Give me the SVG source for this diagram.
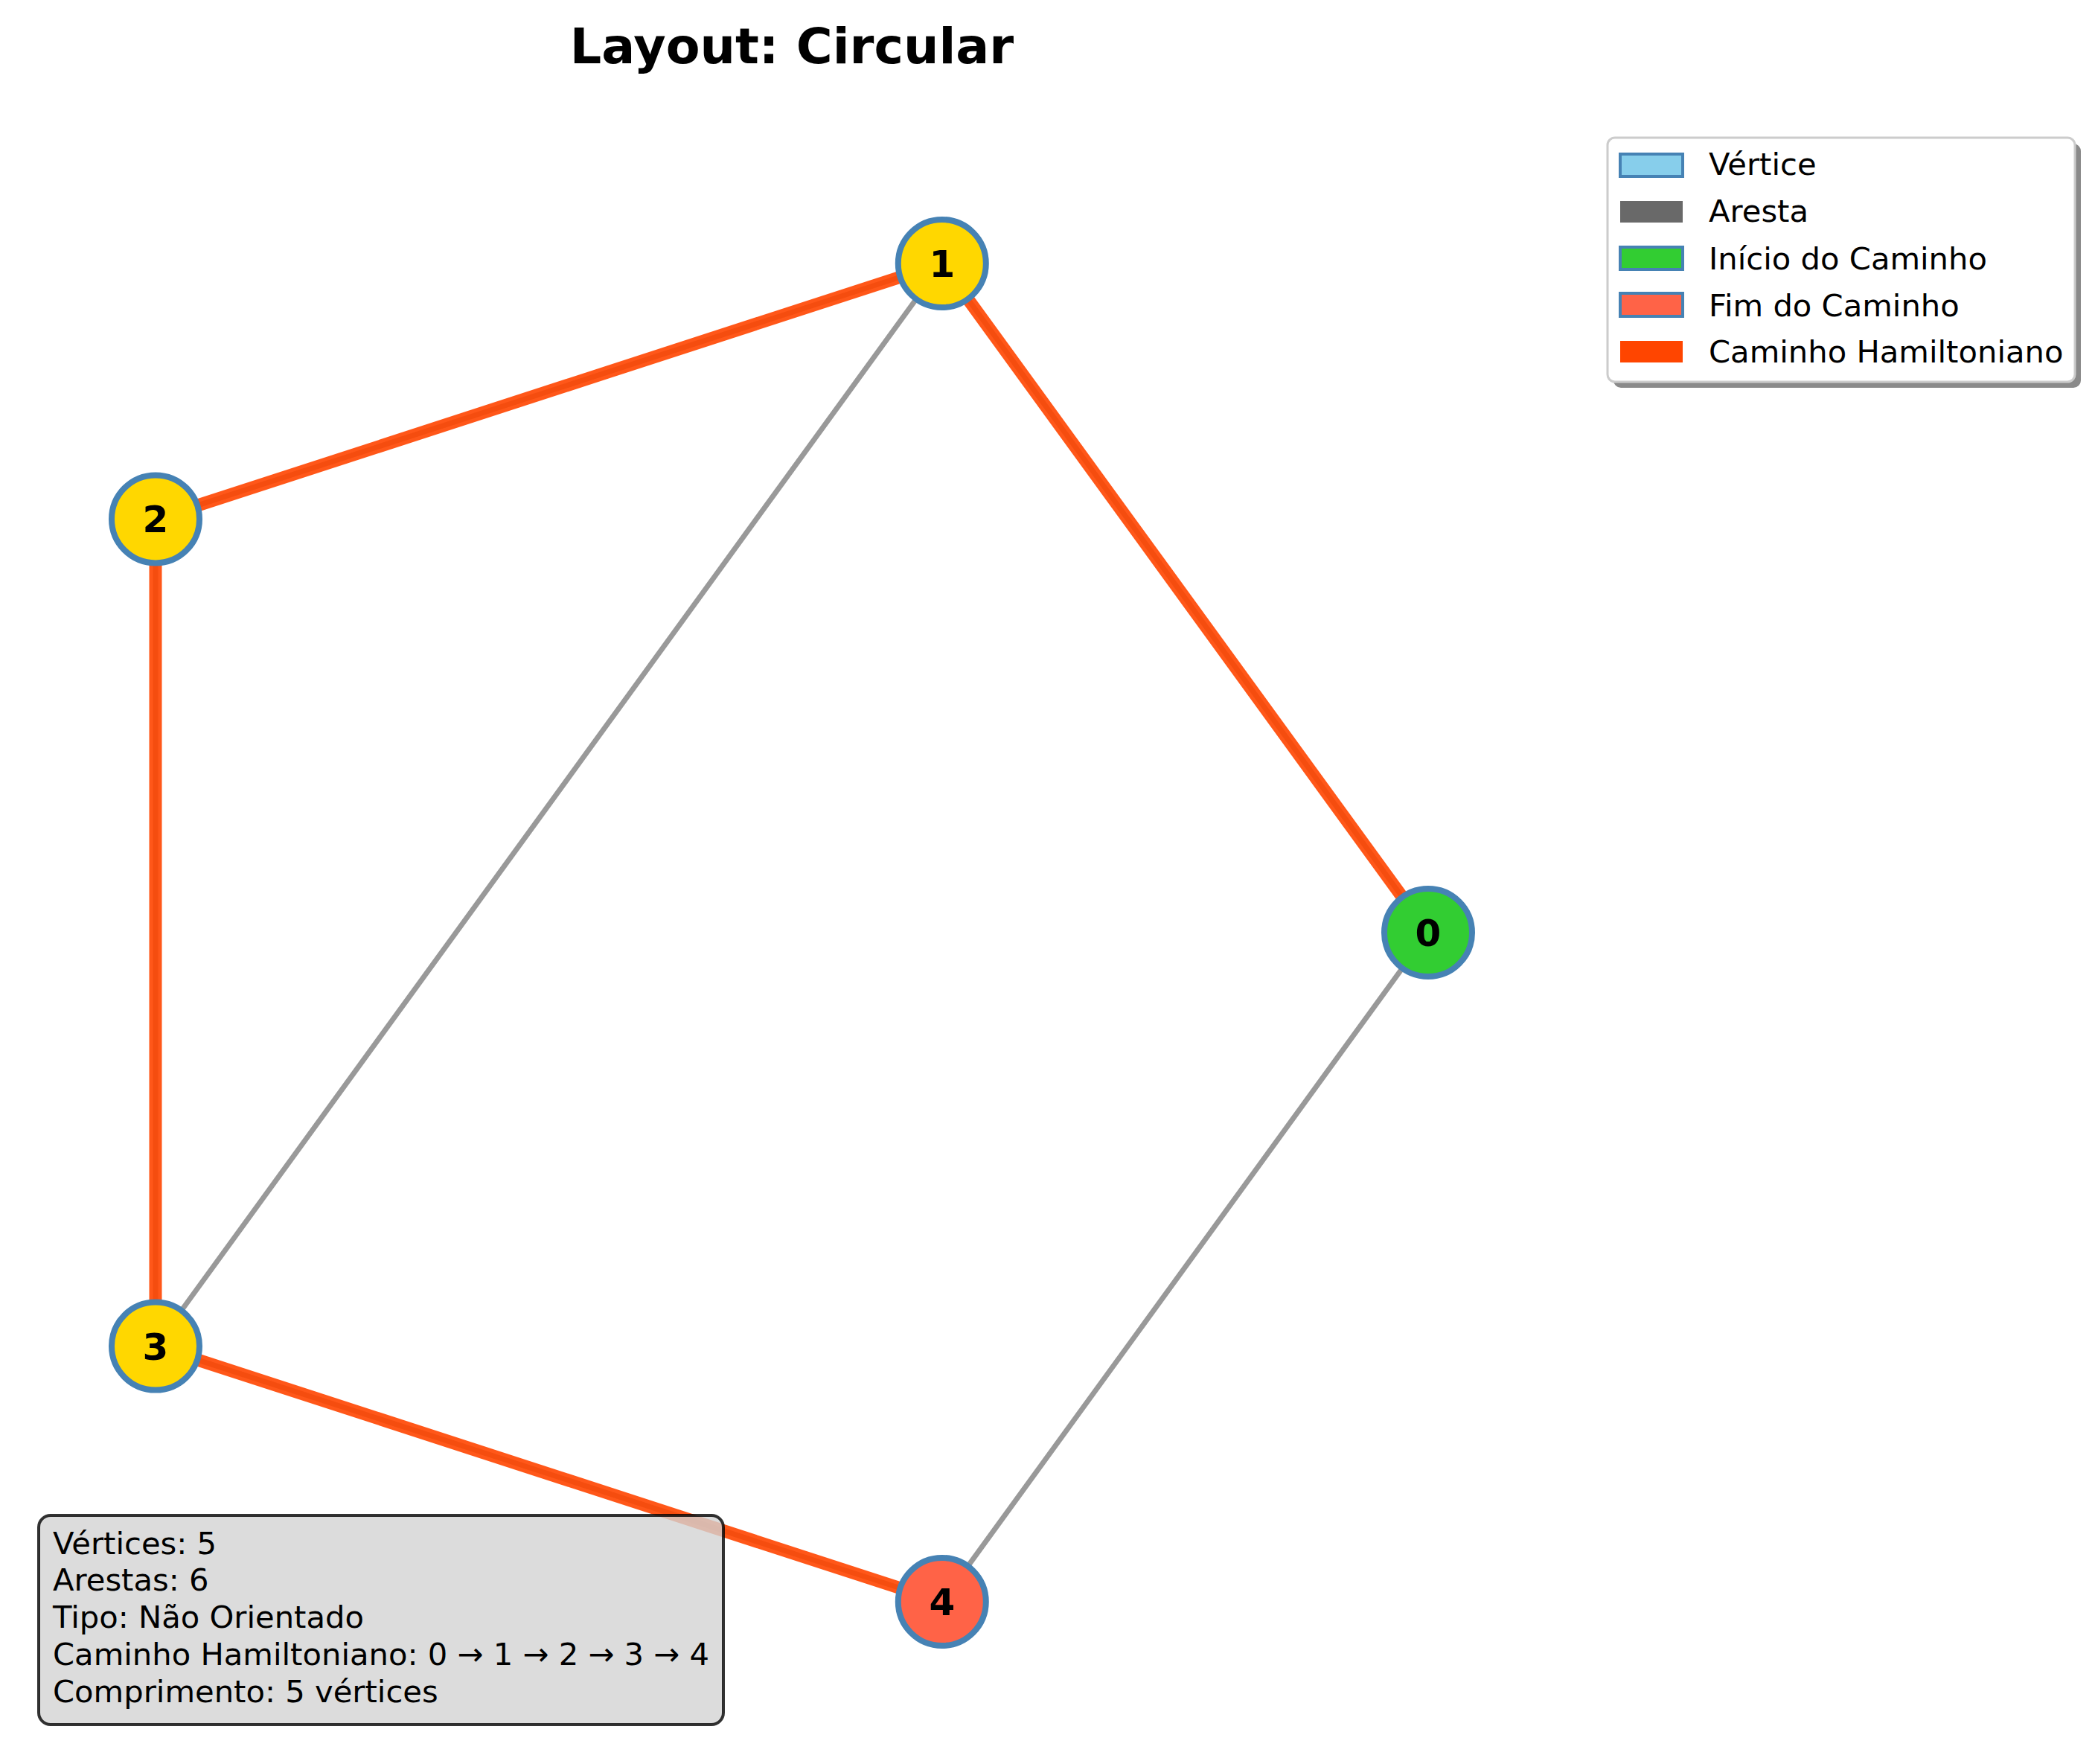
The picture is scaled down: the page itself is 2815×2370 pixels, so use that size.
<svg xmlns="http://www.w3.org/2000/svg" width="2815" height="2370" viewBox="0 0 2815 2370">
<style>
.edge{stroke:#999999;stroke-width:7;stroke-linecap:butt;fill:none}
.path{stroke:#FF4500;stroke-opacity:0.9;stroke-width:17;stroke-linecap:butt;fill:none}
.node{stroke:#4682B4;stroke-width:8}
.nl{font-family:"DejaVu Sans",sans-serif;font-weight:bold;font-size:50px;text-anchor:middle;fill:#000}
.lt{font-family:"DejaVu Sans",sans-serif;font-size:41.7px;fill:#000}
</style>
<rect x="0" y="0" width="2815" height="2370" fill="#ffffff"/>
<text x="1064" y="85" font-family="DejaVu Sans, sans-serif" font-weight="bold" font-size="66.7" text-anchor="middle">Layout: Circular</text>
<g id="connectors">
<line class="edge" x1="1919" y1="1253" x2="1265.8" y2="354"/>
<line class="edge" x1="1265.8" y1="354" x2="209" y2="697.4"/>
<line class="edge" x1="209" y1="697.4" x2="209" y2="1808.6"/>
<line class="edge" x1="209" y1="1808.6" x2="1265.8" y2="2152"/>
<line class="edge" x1="1265.8" y1="354" x2="209" y2="1808.6"/>
<line class="edge" x1="1919" y1="1253" x2="1265.8" y2="2152"/>
<line class="path" x1="1919" y1="1253" x2="1265.8" y2="354"/>
<line class="path" x1="1265.8" y1="354" x2="209" y2="697.4"/>
<line class="path" x1="209" y1="697.4" x2="209" y2="1808.6"/>
<line class="path" x1="209" y1="1808.6" x2="1265.8" y2="2152"/>
</g>
<g id="node0"><circle class="node" cx="1919" cy="1253" r="59" fill="#32CD32"/><text class="nl" x="1919" y="1271">0</text></g>
<g id="node1"><circle class="node" cx="1265.8" cy="354" r="59" fill="#FFD700"/><text class="nl" x="1265.8" y="372">1</text></g>
<g id="node2"><circle class="node" cx="209" cy="697.4" r="59" fill="#FFD700"/><text class="nl" x="209" y="715.4">2</text></g>
<g id="node3"><circle class="node" cx="209" cy="1808.6" r="59" fill="#FFD700"/><text class="nl" x="209" y="1826.6">3</text></g>
<g id="node4"><circle class="node" cx="1265.8" cy="2152" r="59" fill="#FF6347"/><text class="nl" x="1265.8" y="2170">4</text></g>
<g id="info">
<rect x="52" y="2036" width="920" height="281" rx="16" fill="#D3D3D3" fill-opacity="0.8" stroke="#000" stroke-opacity="0.8" stroke-width="4"/>
<text class="lt" x="71" y="2088">Vértices: 5</text>
<text class="lt" x="71" y="2137">Arestas: 6</text>
<text class="lt" x="71" y="2187">Tipo: Não Orientado</text>
<text class="lt" x="71" y="2237">Caminho Hamiltoniano: 0 → 1 → 2 → 3 → 4</text>
<text class="lt" x="71" y="2287">Comprimento: 5 vértices</text>
</g>
<g id="legend">
<rect x="2168" y="193" width="628" height="328" rx="10" fill="#8a8a8a"/>
<rect x="2160" y="185" width="628" height="328" rx="10" fill="#ffffff" stroke="#cccccc" stroke-width="3"/>
<rect x="2177" y="207" width="84" height="30" fill="#87CEEB" stroke="#4682B4" stroke-width="4"/>
<rect x="2177" y="270" width="84" height="29" fill="#696969"/>
<rect x="2177" y="332" width="84" height="30" fill="#32CD32" stroke="#4682B4" stroke-width="4"/>
<rect x="2177" y="394" width="84" height="31" fill="#FF6347" stroke="#4682B4" stroke-width="4"/>
<rect x="2177" y="458" width="84" height="29" fill="#FF4500"/>
<text class="lt" x="2296" y="235">Vértice</text>
<text class="lt" x="2296" y="298">Aresta</text>
<text class="lt" x="2296" y="362">Início do Caminho</text>
<text class="lt" x="2296" y="425">Fim do Caminho</text>
<text class="lt" x="2296" y="487">Caminho Hamiltoniano</text>
</g>
</svg>
